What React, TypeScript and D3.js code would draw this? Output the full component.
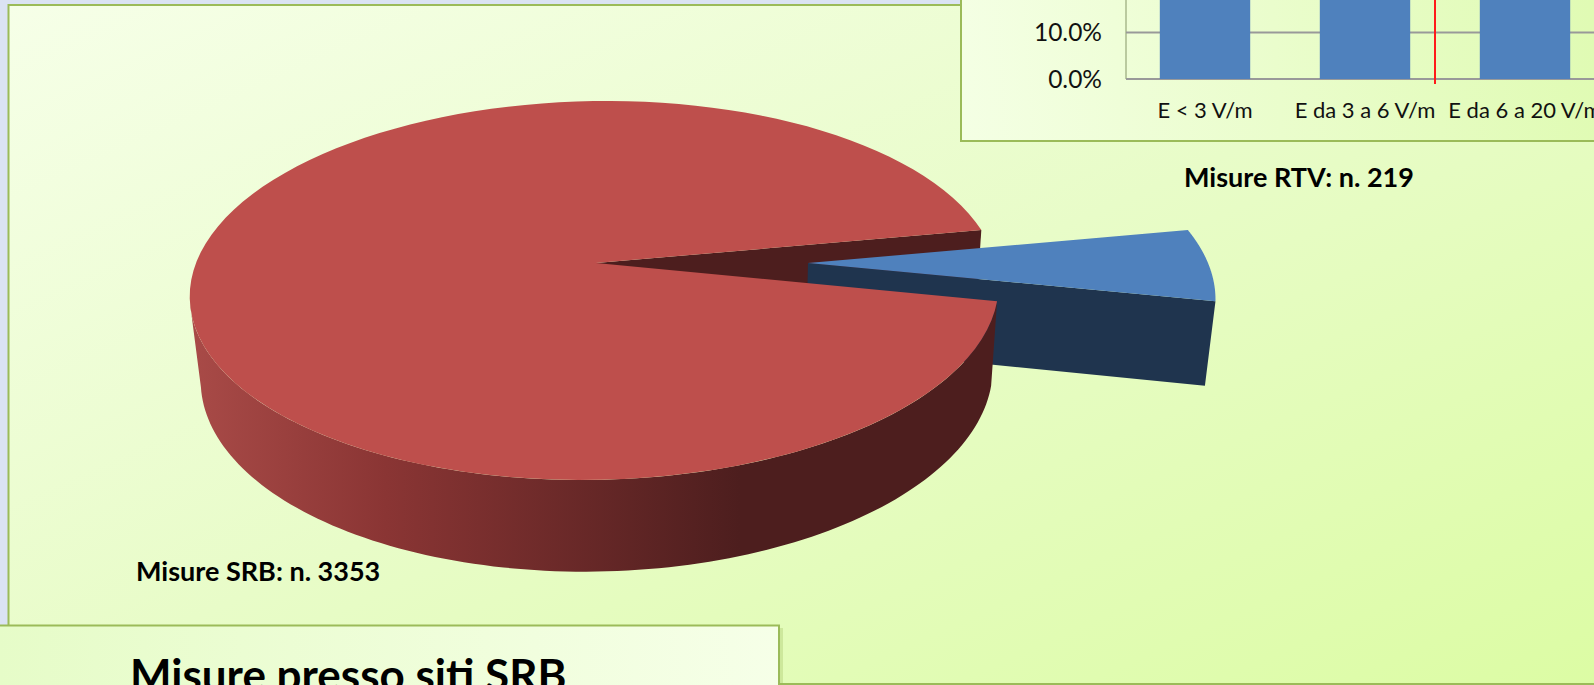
import * as d3 from 'd3';

// values
const pieLabels = ['Misure RTV', 'Misure SRB'];
const pieCounts = [219, 3353];
const categories = ['E < 3 V/m', 'E da 3 a 6 V/m', 'E da 6 a 20 V/m'];
const barValues = [45, 35, 20]; // tops are cut off by the page, only lower part visible
const yTicks = [0, 10];

const FONT = 'Lato, "Open Sans", sans-serif';

// 3d pie camera
const persp = 6.89;
const x0 = 596, y0 = 263;
const radX = 400, radY = 185.5;
const shear = -0.066;
const explode = 0.53;
const toBottom = (p: number[]) => [713 + 0.979 * (p[0] - 713), p[1] + 83 + 0.04 * (p[1] - y0)];

// angle -> screen, 0 at north going clockwise like d3.pie
const project = (a: number, r: number, shift: number, low = false) => {
  const u = r * Math.sin(a) + shift;
  const v = -r * Math.cos(a);
  const f = persp / (persp - v);
  const Y = y0 + radY * v * f;
  const p = [x0 + radX * u * f + shear * (Y - y0), Y];
  return low ? toBottom(p) : p;
};

const line = d3.line().curve(d3.curveLinear);
const arcPoints = (a0: number, a1: number, shift: number, low = false) =>
  d3.range(0, 121).map((i) => project(a0 + ((a1 - a0) * i) / 120, 1, shift, low)) as [number, number][];

const deg = Math.PI / 180;
const slices = d3.pie<number>().sort(null).startAngle(79.5 * deg).endAngle(439.5 * deg)(pieCounts);
const blue = slices[0];
const red = slices[1];

function sector(a0: number, a1: number, shift: number) {
  return line([project(0, 0, shift) as [number, number], ...arcPoints(a0, a1, shift)]) + 'Z';
}
function cutWall(a: number, shift: number) {
  const pts = [project(0, 0, shift), project(a, 1, shift), project(a, 1, shift, true), project(0, 0, shift, true)];
  return line(pts as [number, number][]) + 'Z';
}
function rimWall(a0: number, a1: number) {
  return line([...arcPoints(a0, a1, 0), ...arcPoints(a0, a1, 0, true).reverse()]) + 'Z';
}

// bar chart up in the corner
const y = d3.scaleLinear().domain([0, 10]).range([79, 32.5]);
const x = d3.scaleBand<string>().domain(categories).range([1125, 1605]).paddingInner(0.435).paddingOuter(0.2175);

export default function App() {
  return (
    <svg width={1594} height={685} style={{ position: 'absolute', left: 0, top: 0, fontFamily: FONT }}>
      <defs>
        <linearGradient id="panelBg" gradientUnits="userSpaceOnUse" x1={8} y1={5} x2={529} y2={1164}>
          <stop offset="0" stopColor="#f6ffe8" />
          <stop offset="0.5" stopColor="#e8fcc8" />
          <stop offset="1" stopColor="#dcfca4" />
        </linearGradient>
        <linearGradient id="barBg" gradientUnits="userSpaceOnUse" x1={961} y1={100} x2={1594} y2={60}>
          <stop offset="0" stopColor="#f4ffe4" />
          <stop offset="1" stopColor="#e0fbb4" />
        </linearGradient>
        <linearGradient id="titleBg" gradientUnits="userSpaceOnUse" x1={0} y1={685} x2={779} y2={625}>
          <stop offset="0" stopColor="#e6fcc8" />
          <stop offset="1" stopColor="#f6ffe8" />
        </linearGradient>
        <linearGradient id="redWall" gradientUnits="userSpaceOnUse" x1={195} y1={0} x2={740} y2={0}>
          <stop offset="0" stopColor="#a84a47" />
          <stop offset="0.35" stopColor="#8a3534" />
          <stop offset="1" stopColor="#4d1e1e" />
        </linearGradient>
      </defs>

      <rect width={1594} height={685} fill="#dbe3f3" />
      <rect x={8.5} y={5} width={1640} height={679} fill="url(#panelBg)" stroke="#9bbb59" strokeWidth={2} />

      {/* pie */}
      <path d={cutWall(red.endAngle, 0)} fill="#4d1e1e" />
      <path d={cutWall(blue.endAngle, explode)} fill="#1f344e" />
      <path d={sector(blue.startAngle, blue.endAngle, explode)} fill="#4f81bd" />
      <path d={rimWall(red.startAngle, 258 * deg)} fill="url(#redWall)" />
      <path d={sector(red.startAngle, red.endAngle, 0)} fill="#be4f4c" />

      <text x={136} y={581} fontSize={27} fontWeight={700} fill="#000">{pieLabels[1] + ': n. ' + pieCounts[1]}</text>
      <text x={1184} y={187} fontSize={27} fontWeight={700} fill="#000">{pieLabels[0] + ': n. ' + pieCounts[0]}</text>

      {/* bar chart panel */}
      <rect x={961} y={-10} width={700} height={151} fill="url(#barBg)" stroke="#9bbb59" strokeWidth={2} />
      <line x1={1126} x2={1126} y1={0} y2={79} stroke="#a9b98c" strokeWidth={1.5} />
      {yTicks.map((t) => (
        <g key={t}>
          <line x1={1126} x2={1594} y1={y(t)} y2={y(t)} stroke="#999" strokeWidth={2} />
          <text x={1102} y={y(t) + 8.5} fontSize={24.5} textAnchor="end" fill="#111">{t.toFixed(1) + '%'}</text>
        </g>
      ))}
      {categories.map((c, i) => (
        <g key={c}>
          <rect x={x(c)} y={y(barValues[i])} width={x.bandwidth()} height={y(0) - y(barValues[i])} fill="#4f81bd" />
          <text x={x(c)! + x.bandwidth() / 2} y={118} fontSize={22} textAnchor="middle" fill="#111">{c}</text>
        </g>
      ))}
      <line x1={1435} x2={1435} y1={0} y2={84} stroke="#ff1a1a" strokeWidth={2} />

      {/* title panel */}
      <rect x={780} y={628} width={3} height={56} fill="#9bbb59" opacity={0.3} />
      <rect x={-10} y={625.5} width={789} height={80} fill="url(#titleBg)" stroke="#9bbb59" strokeWidth={2} />
      <text x={130} y={691} fontSize={44} fontWeight={700} fill="#000">Misure presso siti SRB</text>
    </svg>
  );
}
